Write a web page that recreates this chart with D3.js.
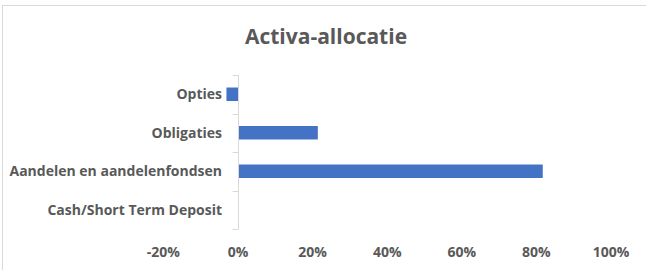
<!DOCTYPE html>
<html>
<head>
<meta charset="utf-8">
<script src="https://cdn.jsdelivr.net/npm/d3@7"></script>
<style>
  body { margin: 0; background: #fff; }
  text { font-family: "Open Sans", sans-serif; font-weight: bold; fill: #595959; }
</style>
</head>
<body>
<div id="chart"></div>
<script>
// data, top to bottom as shown
var categories = ["Opties", "Obligaties", "Aandelen en aandelenfondsen", "Cash/Short Term Deposit"];
var values = [-0.031, 0.214, 0.817, 0];
var xTicks = [-0.2, 0, 0.2, 0.4, 0.6, 0.8, 1.0];

var width = 646, height = 270;
var svg = d3.select("#chart").append("svg")
    .attr("width", width)
    .attr("height", height);

// chart frame
svg.append("rect")
    .attr("x", 2.5).attr("y", 5.5)
    .attr("width", 700).attr("height", 400)
    .attr("fill", "none")
    .attr("stroke", "#d9d9d9");

// title
svg.append("text")
    .attr("x", 326).attr("y", 44)
    .attr("text-anchor", "middle")
    .style("font-size", "21px")
    .text("Activa-allocatie");

var x = d3.scaleLinear().domain([-0.2, 1.0]).range([163.4, 611]);
var y = d3.scaleBand().domain(categories).range([75, 229]).padding(0);

var barH = y.step() * 0.35;

// bars
svg.append("g").selectAll("rect")
    .data(values)
    .enter().append("rect")
    .attr("x", function (d) { return x(Math.min(0, d)); })
    .attr("y", function (d, i) { return y(categories[i]) + (y.step() - barH) / 2; })
    .attr("width", function (d) { return Math.abs(x(d) - x(0)); })
    .attr("height", barH)
    .attr("fill", "#4472c4");

// vertical axis line at 0 with ticks at band edges
var x0 = Math.round(x(0)) + 0.5;
var axis = svg.append("g");
axis.append("line")
    .attr("x1", x0).attr("x2", x0)
    .attr("y1", y.range()[0]).attr("y2", y.range()[1])
    .attr("stroke", "#d9d9d9");
var edges = categories.map(function (c) { return y(c); }).concat([y.range()[1]]);
axis.selectAll(".tk")
    .data(edges)
    .enter().append("line")
    .attr("x1", x0 - 6).attr("x2", x0)
    .attr("y1", function (d) { return Math.round(d) + 0.5; })
    .attr("y2", function (d) { return Math.round(d) + 0.5; })
    .attr("stroke", "#d9d9d9");

// category labels
svg.append("g").selectAll("text")
    .data(categories)
    .enter().append("text")
    .attr("x", 222)
    .attr("y", function (d) { return y(d) + y.step() / 2; })
    .attr("dy", "0.35em")
    .attr("text-anchor", "end")
    .style("font-size", "14px")
    .text(function (d) { return d; });

// x tick labels
svg.append("g").selectAll("text")
    .data(xTicks)
    .enter().append("text")
    .attr("x", function (d) { return x(d); })
    .attr("y", 252)
    .attr("dy", "0.35em")
    .attr("text-anchor", "middle")
    .style("font-size", "14px")
    .text(function (d) { return Math.round(d * 100) + "%"; });
</script>
</body>
</html>
